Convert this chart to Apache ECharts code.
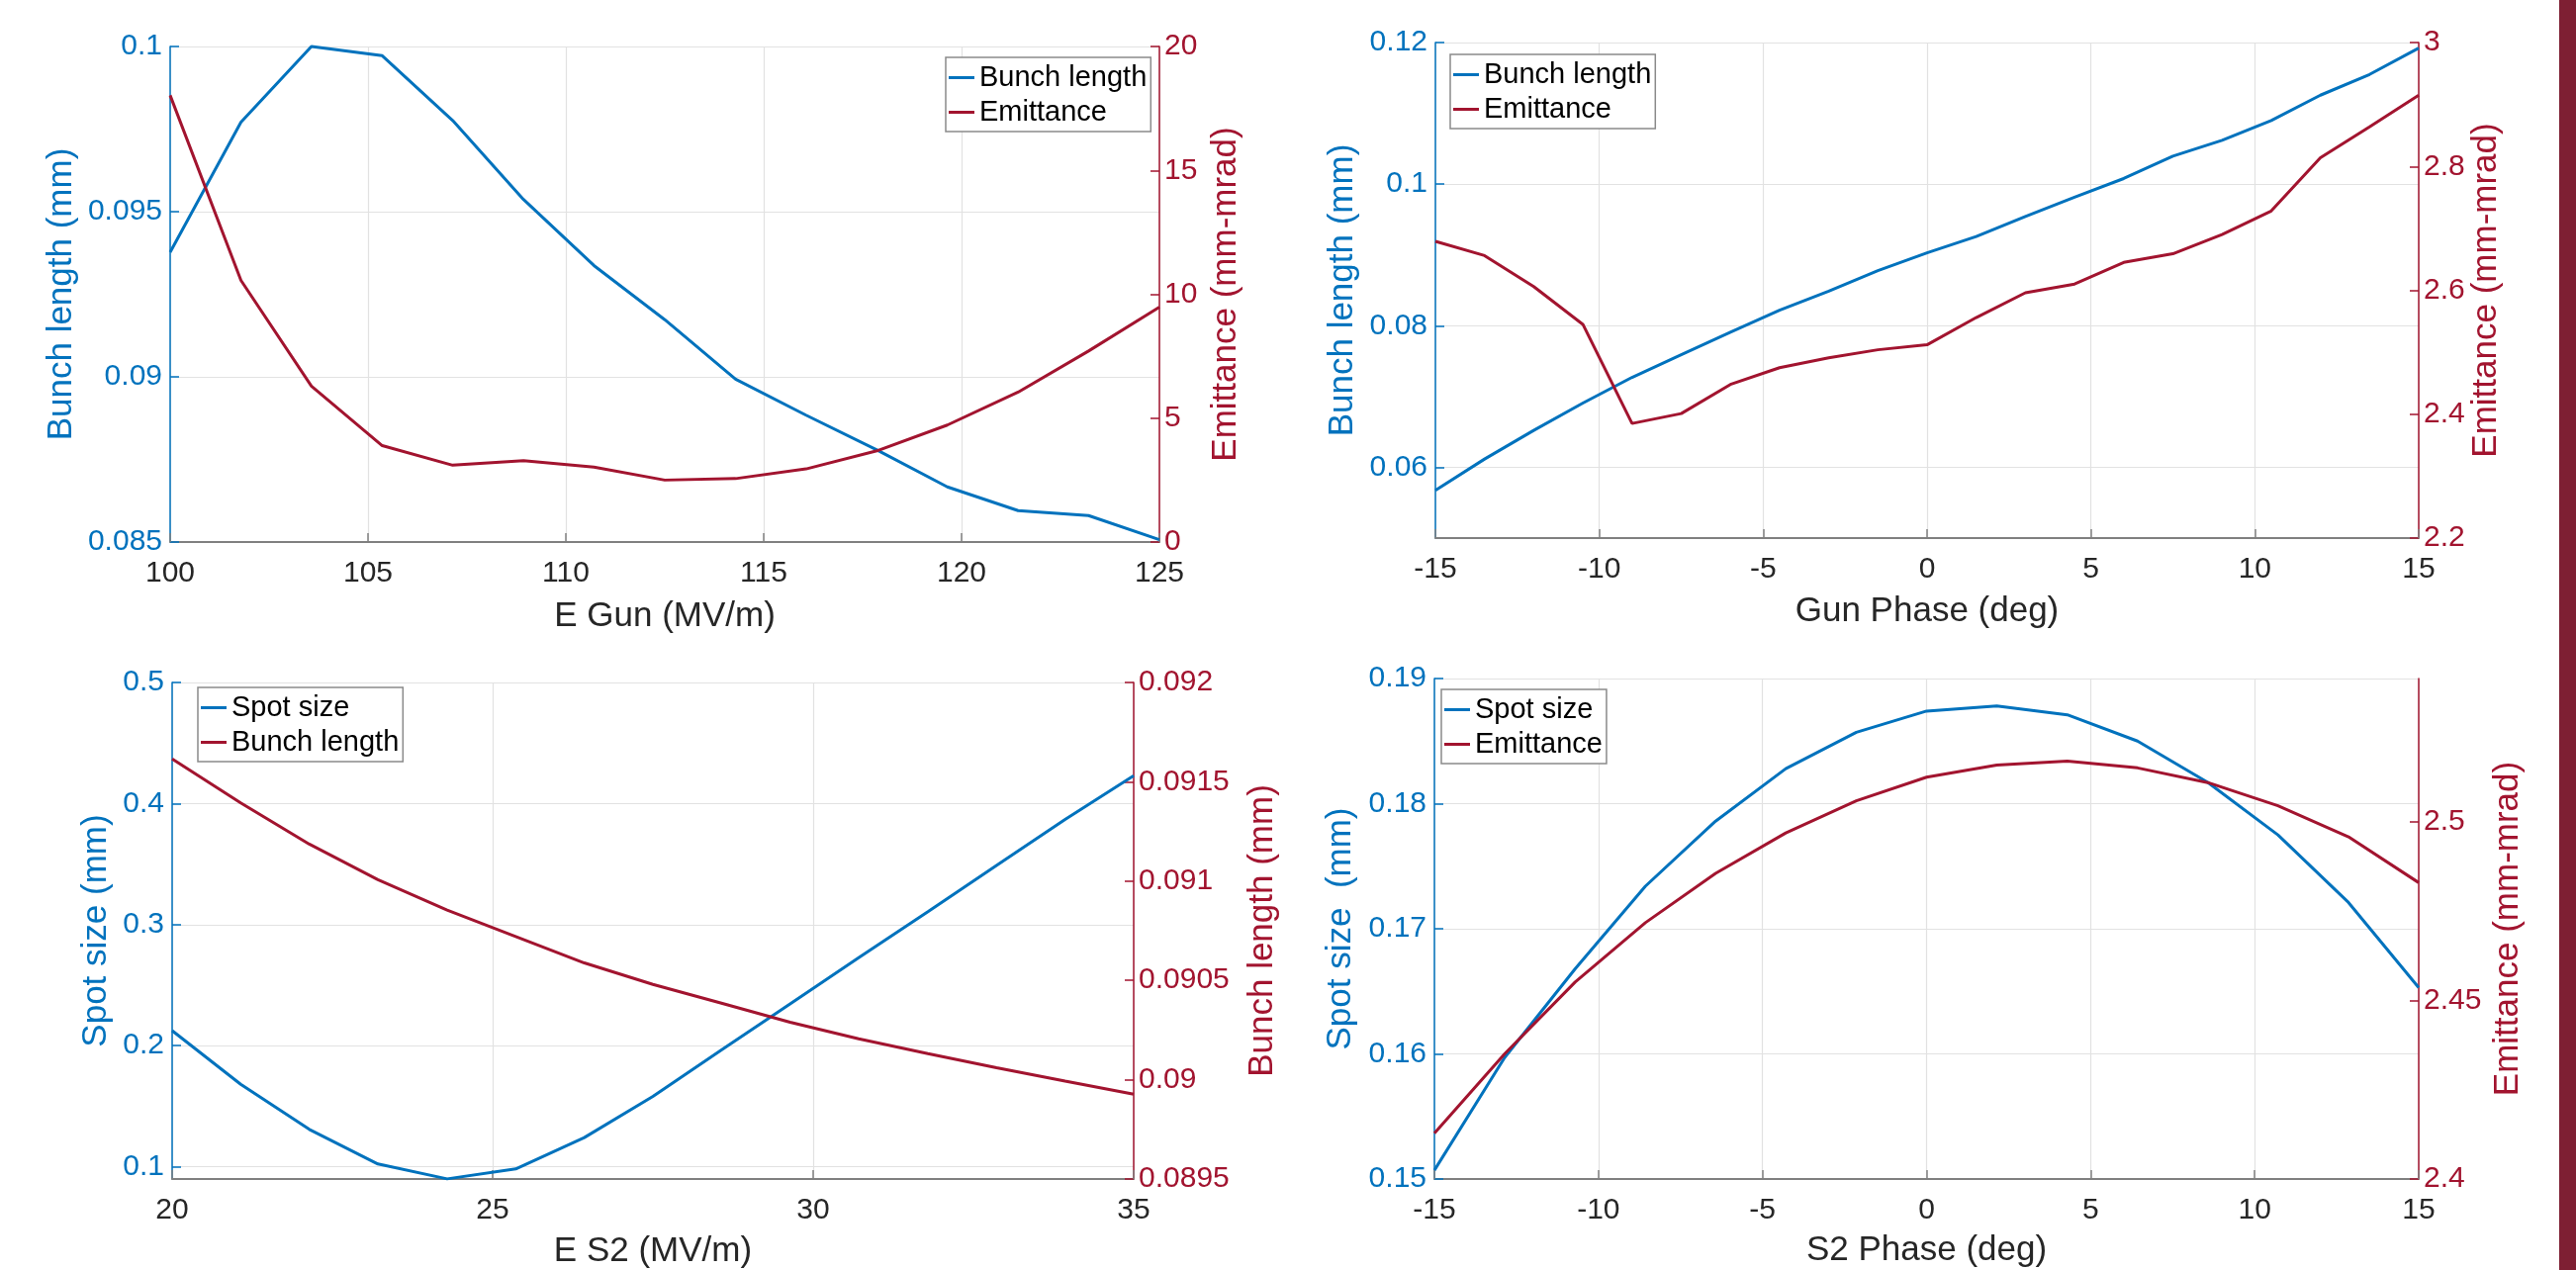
<!DOCTYPE html>
<html><head><meta charset="utf-8">
<script src="https://cdn.jsdelivr.net/npm/echarts@6/dist/echarts.min.js"></script>
<style>html,body{margin:0;padding:0;background:#fff}#c{width:2604px;height:1284px}</style>
</head><body><div id="c"></div>
<script>
// ---- Panel 1: E Gun scan ----
const eGun = [100, 101.79, 103.57, 105.36, 107.14, 108.93, 110.71, 112.5, 114.29, 116.07, 117.86, 119.64, 121.43, 123.21, 125];
const eGunBunch = [0.09377, 0.09771, 0.1000, 0.09972, 0.09776, 0.09537, 0.09337, 0.09173, 0.08993, 0.08884, 0.08779, 0.08667, 0.08595, 0.0858, 0.08507];
const eGunEmit = [18.03, 10.56, 6.29, 3.89, 3.10, 3.28, 3.02, 2.50, 2.56, 2.95, 3.68, 4.72, 6.05, 7.71, 9.48];
const eGunLeftTicks = [0.085, 0.09, 0.095, 0.1];
const eGunRightTicks = [0, 5, 10, 15, 20];

// ---- Panel 2: Gun phase scan ----
const gunPhase = [-15, -13.5, -12, -10.5, -9, -7.5, -6, -4.5, -3, -1.5, 0, 1.5, 3, 4.5, 6, 7.5, 9, 10.5, 12, 13.5, 15];
const gunPhaseBunch = [0.05674, 0.06116, 0.06521, 0.06907, 0.0727, 0.07591, 0.07907, 0.08219, 0.08488, 0.08777, 0.0903, 0.0926, 0.09544, 0.09814, 0.10079, 0.10395, 0.10619, 0.10898, 0.11256, 0.11549, 0.11921];
const gunPhaseEmit = [2.679, 2.656, 2.606, 2.545, 2.385, 2.401, 2.448, 2.475, 2.491, 2.504, 2.512, 2.556, 2.596, 2.610, 2.645, 2.659, 2.690, 2.728, 2.814, 2.864, 2.915];
const gunPhaseLeftTicks = [0.06, 0.08, 0.1, 0.12];
const gunPhaseRightTicks = [2.2, 2.4, 2.6, 2.8, 3];

// ---- Panel 3: E S2 scan ----
const eS2 = [20, 21.07, 22.14, 23.21, 24.29, 25.36, 26.43, 27.5, 28.57, 29.64, 30.71, 31.79, 32.86, 33.93, 35];
const eS2Spot = [0.2124, 0.168, 0.1308, 0.1022, 0.0899, 0.0981, 0.124, 0.158, 0.1964, 0.2345, 0.2726, 0.3107, 0.3488, 0.3869, 0.4229];
const eS2Bunch = [0.091615, 0.091394, 0.091186, 0.091007, 0.090854, 0.090721, 0.090588, 0.09048, 0.090385, 0.090289, 0.090206, 0.090131, 0.09006, 0.089993, 0.089927];
const eS2LeftTicks = [0.1, 0.2, 0.3, 0.4, 0.5];
const eS2RightTicks = [0.0895, 0.09, 0.0905, 0.091, 0.0915, 0.092];

// ---- Panel 4: S2 phase scan ----
const s2Phase = [-15, -12.86, -10.71, -8.57, -6.43, -4.29, -2.14, 0, 2.14, 4.29, 6.43, 8.57, 10.71, 12.86, 15];
const s2Spot = [0.1507, 0.1597, 0.1668, 0.1734, 0.1786, 0.1828, 0.1857, 0.1874, 0.1878, 0.1871, 0.1850, 0.1817, 0.1775, 0.1721, 0.1653];
const s2Emit = [2.4128, 2.4350, 2.4551, 2.4717, 2.4855, 2.4968, 2.5058, 2.5124, 2.5158, 2.5169, 2.5150, 2.5109, 2.5044, 2.4957, 2.4829];
const s2LeftTicks = [0.15, 0.16, 0.17, 0.18, 0.19];
const s2RightTicks = [2.4, 2.45, 2.5];

const FONT = '"Liberation Sans", Arial, Helvetica, sans-serif';
const BLUE = '#0072BD', RED = '#A2142F', DARK = '#262626', GRIDC = '#e2e2e2', AXISC = '#808080';
const TICK_FS = 30, NAME_FS = 35, LEG_FS = 29;

const zip = (xs, ys) => xs.map((x, i) => [x, ys[i]]);
const fmt = v => String(parseFloat(Number(v).toPrecision(6)));

function xAx(gi, min, max, name, gap) {
  return {
    type: 'value', gridIndex: gi, min, max, interval: 5,
    name, nameLocation: 'middle', nameGap: gap,
    nameTextStyle: { fontFamily: FONT, fontSize: NAME_FS, color: DARK },
    axisLine: { show: true, onZero: false, lineStyle: { color: AXISC, width: 2 } },
    axisTick: { show: true, inside: true, length: 9, lineStyle: { color: AXISC, width: 1.5 } },
    axisLabel: { fontFamily: FONT, fontSize: TICK_FS, color: DARK, margin: 17, showMinLabel: true, showMaxLabel: true, formatter: fmt },
    splitLine: { show: true, lineStyle: { color: GRIDC, width: 1.2 } }
  };
}
function yAx(gi, side, min, max, ticks, name, gap, color) {
  return {
    type: 'value', gridIndex: gi, position: side, min, max,
    name, nameLocation: 'middle', nameGap: gap, nameRotate: 90,
    nameTextStyle: { fontFamily: FONT, fontSize: NAME_FS, color },
    axisLine: { show: true, onZero: false, lineStyle: { color, width: 1.5 } },
    axisTick: { show: true, inside: true, length: 9, customValues: ticks, lineStyle: { color, width: 1.5 } },
    axisLabel: { customValues: ticks, fontFamily: FONT, fontSize: TICK_FS, color, margin: side === 'left' ? 8 : 5, formatter: fmt },
    splitLine: { show: side === 'left', lineStyle: { color: GRIDC, width: 1.2 } }
  };
}
function line(name, xi, yi, xs, ys, color) {
  return {
    type: 'line', name, xAxisIndex: xi, yAxisIndex: yi, data: zip(xs, ys),
    symbol: 'none', showSymbol: false, clip: false,
    lineStyle: { color, width: 3 }, itemStyle: { color }
  };
}
function legend(left, top, items) {
  return {
    left, top, orient: 'vertical', selectedMode: false,
    icon: 'rect', itemWidth: 26, itemHeight: 3, itemGap: 6,
    padding: [6, 4, 5, 3],
    borderColor: '#8a8a8a', borderWidth: 1.5, backgroundColor: '#ffffff',
    textStyle: { fontFamily: FONT, fontSize: LEG_FS, color: '#000', lineHeight: 29 },
    data: items.map(([n, c]) => ({ name: n, icon: 'rect', itemStyle: { color: c, borderWidth: 0 } }))
  };
}

const option = {
  animation: false,
  backgroundColor: '#ffffff',
  grid: [
    { left: 172, top: 47, width: 1000, height: 501, outerBoundsMode: 'none' },
    { left: 1451, top: 43, width: 994, height: 501, outerBoundsMode: 'none' },
    { left: 174, top: 690, width: 972, height: 502, outerBoundsMode: 'none' },
    { left: 1450, top: 686, width: 995, height: 506, outerBoundsMode: 'none' }
  ],
  xAxis: [
    xAx(0, 100, 125, 'E Gun (MV/m)', 58),
    xAx(1, -15, 15, 'Gun Phase (deg)', 57),
    xAx(2, 20, 35, 'E S2 (MV/m)', 56),
    xAx(3, -15, 15, 'S2 Phase (deg)', 55)
  ],
  yAxis: [
    yAx(0, 'left', 0.085, 0.1, eGunLeftTicks, 'Bunch length (mm)', 92, BLUE),
    yAx(0, 'right', 0, 20, eGunRightTicks, 'Emittance (mm-mrad)', 50, RED),
    yAx(1, 'left', 0.05, 0.12, gunPhaseLeftTicks, 'Bunch length (mm)', 76, BLUE),
    yAx(1, 'right', 2.2, 3, gunPhaseRightTicks, 'Emittance (mm-mrad)', 48, RED),
    yAx(2, 'left', 0.0898, 0.5, eS2LeftTicks, 'Spot size (mm)', 59, BLUE),
    yAx(2, 'right', 0.0895, 0.092, eS2RightTicks, 'Bunch length (mm)', 113, RED),
    yAx(3, 'left', 0.15, 0.19, s2LeftTicks, 'Spot size  (mm)', 77, BLUE),
    yAx(3, 'right', 2.4, 2.54, s2RightTicks, 'Emittance (mm-mrad)', 73, RED)
  ],
  legend: [
    legend(956, 58, [['Bunch length', BLUE], ['Emittance', RED]]),
    legend(1466, 55, [['Bunch length', BLUE], ['Emittance', RED]]),
    legend(200, 695, [['Spot size', BLUE], ['Bunch length', RED]]),
    legend(1457, 697, [['Spot size', BLUE], ['Emittance', RED]])
  ],
  series: [
    line('Bunch length', 0, 0, eGun, eGunBunch, BLUE),
    line('Emittance', 0, 1, eGun, eGunEmit, RED),
    line('Bunch length', 1, 2, gunPhase, gunPhaseBunch, BLUE),
    line('Emittance', 1, 3, gunPhase, gunPhaseEmit, RED),
    line('Spot size', 2, 4, eS2, eS2Spot, BLUE),
    line('Bunch length', 2, 5, eS2, eS2Bunch, RED),
    line('Spot size', 3, 6, s2Phase, s2Spot, BLUE),
    line('Emittance', 3, 7, s2Phase, s2Emit, RED)
  ],
  graphic: [
    { type: 'rect', left: 2587, top: 0, shape: { width: 17, height: 1284 }, style: { fill: '#7E1F33' }, silent: true }
  ]
};
const chart = echarts.init(document.getElementById('c'), null, { renderer: 'canvas' });
chart.setOption(option);
</script>
</body></html>
